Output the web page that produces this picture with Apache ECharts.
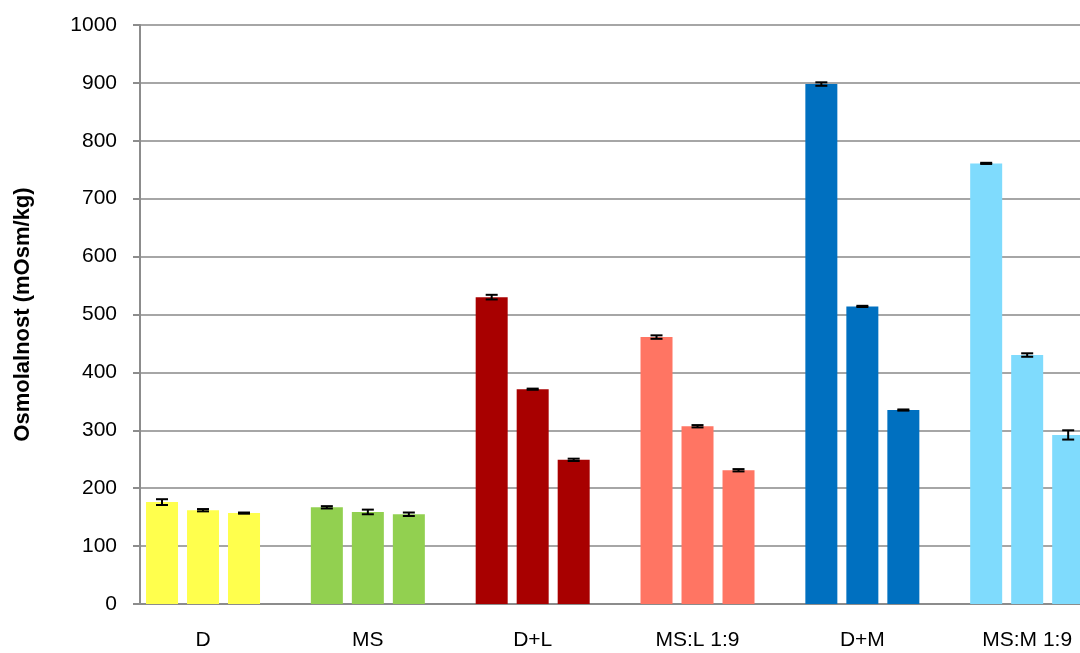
<!DOCTYPE html>
<html>
<head>
<meta charset="utf-8">
<script src="https://cdn.jsdelivr.net/npm/echarts@6/dist/echarts.min.js"></script>
<style>html,body{margin:0;padding:0;background:#fff;}#c{width:1080px;height:653px;}</style>
</head>
<body>
<div id="c"></div>
<script>
const categories = ['D', 'MS', 'D+L', 'MS:L 1:9', 'D+M', 'MS:M 1:9'];
const values1 = [176, 167, 530, 461, 898, 761];
const values2 = [162, 159, 371, 307, 514, 430];
const values3 = [157, 155, 249, 231, 335, 292];
const errors1 = [5, 2, 4, 3, 3, 1];
const errors2 = [2, 4, 1, 2, 1, 3];
const errors3 = [1, 3, 2, 2, 1, 8];
const yTicks = [0, 100, 200, 300, 400, 500, 600, 700, 800, 900, 1000];
const catColors = ['#FFFF4D', '#92D050', '#A80000', '#FF7563', '#0070C0', '#7FDBFD'];

const BAR_W = 32, BAR_GAP = 9;
const seriesVals = [values1, values2, values3];
const seriesErrs = [errors1, errors2, errors3];

const barSeries = seriesVals.map((vals, s) => ({
  type: 'bar',
  xAxisIndex: 1, yAxisIndex: 1,
  barWidth: BAR_W,
  barGap: (BAR_GAP / BAR_W * 100) + '%',
  z: 3,
  data: vals.map((v, i) => ({ value: v, itemStyle: { color: catColors[i] } }))
}));

const errData = [];
seriesVals.forEach((vals, s) => vals.forEach((v, i) => errData.push([i, s, v, seriesErrs[s][i]])));

const chart = echarts.init(document.getElementById('c'), null, { renderer: 'canvas' });
chart.setOption({
  animation: false,
  backgroundColor: '#fff',
  grid: [
    { left: 140, top: 25, bottom: 49, width: 1000, outerBoundsMode: 'none', containLabel: false },
    { left: 120.6, top: 25, bottom: 49, width: 989, outerBoundsMode: 'none', containLabel: false }
  ],
  xAxis: [
    { type: 'category', gridIndex: 0, data: categories,
      axisLine: { show: true, lineStyle: { color: '#8C8C8C', width: 2 } },
      axisTick: { show: false }, axisLabel: { show: false }, splitLine: { show: false } },
    { type: 'category', gridIndex: 1, data: categories,
      axisLine: { show: false }, axisTick: { show: false },
      axisLabel: { color: '#000', fontSize: 21, fontFamily: 'Liberation Sans', margin: 26 } }
  ],
  yAxis: [
    { type: 'value', gridIndex: 0, min: yTicks[0], max: yTicks[yTicks.length - 1], interval: 100,
      name: 'Osmolalnost (mOsm/kg)', nameLocation: 'middle', nameRotate: 90, nameGap: 106,
      nameTextStyle: { color: '#000', fontSize: 22, fontWeight: 'bold', fontFamily: 'Liberation Sans' },
      axisLine: { show: true, lineStyle: { color: '#8C8C8C', width: 2 } },
      axisTick: { show: true, length: 7, lineStyle: { color: '#8C8C8C', width: 2 } },
      axisLabel: { color: '#000', fontSize: 21, fontFamily: 'Liberation Sans', margin: 23,
        formatter: function (v) { return String(v); } },
      splitLine: { show: true, lineStyle: { color: '#A6A6A6', width: 2 } } },
    { type: 'value', gridIndex: 1, min: 0, max: 1000, interval: 100, show: false, splitLine: { show: false } }
  ],
  series: barSeries.concat([{
    type: 'custom',
    xAxisIndex: 1, yAxisIndex: 1,
    z: 5,
    encode: { x: 0, y: 2 },
    data: errData,
    renderItem: function (params, api) {
      const ci = api.value(0), s = api.value(1), v = api.value(2), e = api.value(3);
      const off = (s - 1) * (BAR_W + BAR_GAP);
      const top = api.coord([ci, v + e]);
      const bot = api.coord([ci, v - e]);
      const x = top[0] + off;
      const cap = 6;
      const st = { stroke: '#000', lineWidth: 2 };
      return { type: 'group', children: [
        { type: 'line', shape: { x1: x, y1: top[1], x2: x, y2: bot[1] }, style: st },
        { type: 'line', shape: { x1: x - cap, y1: top[1], x2: x + cap, y2: top[1] }, style: st },
        { type: 'line', shape: { x1: x - cap, y1: bot[1], x2: x + cap, y2: bot[1] }, style: st }
      ]};
    }
  }])
});
</script>
</body>
</html>
